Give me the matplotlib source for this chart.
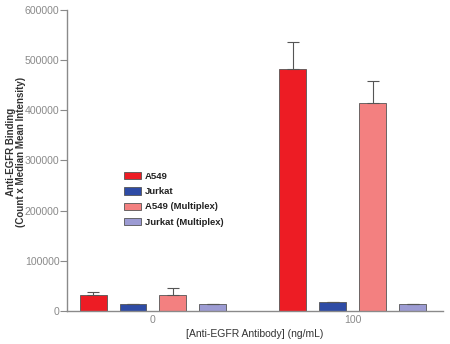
import matplotlib.pyplot as plt
import numpy as np

plt.rcParams['font.family'] = ['Liberation Sans', 'DejaVu Sans']

doses = ['0', '100']
series = ['A549', 'Jurkat', 'A549 (Multiplex)', 'Jurkat (Multiplex)']
colors = ['#ED1C24', '#2E4BA5', '#F38080', '#9C9BD3']

means = [
    [32500, 483000],   # A549
    [13500, 18500],    # Jurkat
    [31000, 414000],   # A549 (Multiplex)
    [13000, 14000],    # Jurkat (Multiplex)
]
err_up = [
    [5500, 53000],
    [1000, 0],
    [15000, 45000],
    [0, 0],
]

fig = plt.figure(figsize=(4.5, 3.44), dpi=100)
ax = fig.add_axes([0.149, 0.096, 0.835, 0.875])

x = np.arange(len(doses))
offsets = [-0.3, -0.1, 0.1, 0.3]
width = 0.135
gray = '#8a8a8a'

for i, name in enumerate(series):
    ax.bar(x + offsets[i], means[i], width, color=colors[i],
           edgecolor='#555555', linewidth=0.6, label=name, zorder=2)
    ax.errorbar(x + offsets[i], means[i],
                yerr=[np.zeros(len(doses)), err_up[i]],
                fmt='none', ecolor='#555555', elinewidth=0.8,
                capsize=4, capthick=0.8, zorder=3)

ax.set_xlim(-0.43, 1.45)
ax.set_ylim(0, 600000)
ax.set_yticks(np.arange(0, 600001, 100000))
ax.set_xticks(x)
ax.set_xticklabels(doses)
ax.tick_params(axis='y', colors=gray, labelsize=7.6, length=5, width=0.8, pad=0.5)
ax.tick_params(axis='x', colors=gray, labelsize=7.6, length=0, pad=3)

for s in ['top', 'right']:
    ax.spines[s].set_visible(False)
for s in ['left', 'bottom']:
    ax.spines[s].set_color(gray)
    ax.spines[s].set_linewidth(1.0)

ax.set_ylabel('Anti-EGFR Binding\n(Count x Median Mean Intensity)',
              fontsize=7, fontweight='bold', color='#333333', linespacing=1.0)
ax.yaxis.set_label_coords(-0.11, 0.53)
ax.set_xlabel('[Anti-EGFR Antibody] (ng/mL)', fontsize=7.5,
              color='#333333', labelpad=3)

leg = ax.legend(loc='upper left', bbox_to_anchor=(0.13, 0.49), frameon=False,
                prop={'size': 6.8, 'weight': 'bold'}, handlelength=1.8,
                handleheight=0.8, handletextpad=0.4, labelspacing=0.66)
for t in leg.get_texts():
    t.set_color('#222222')

fig.savefig('out.png', dpi=100)
